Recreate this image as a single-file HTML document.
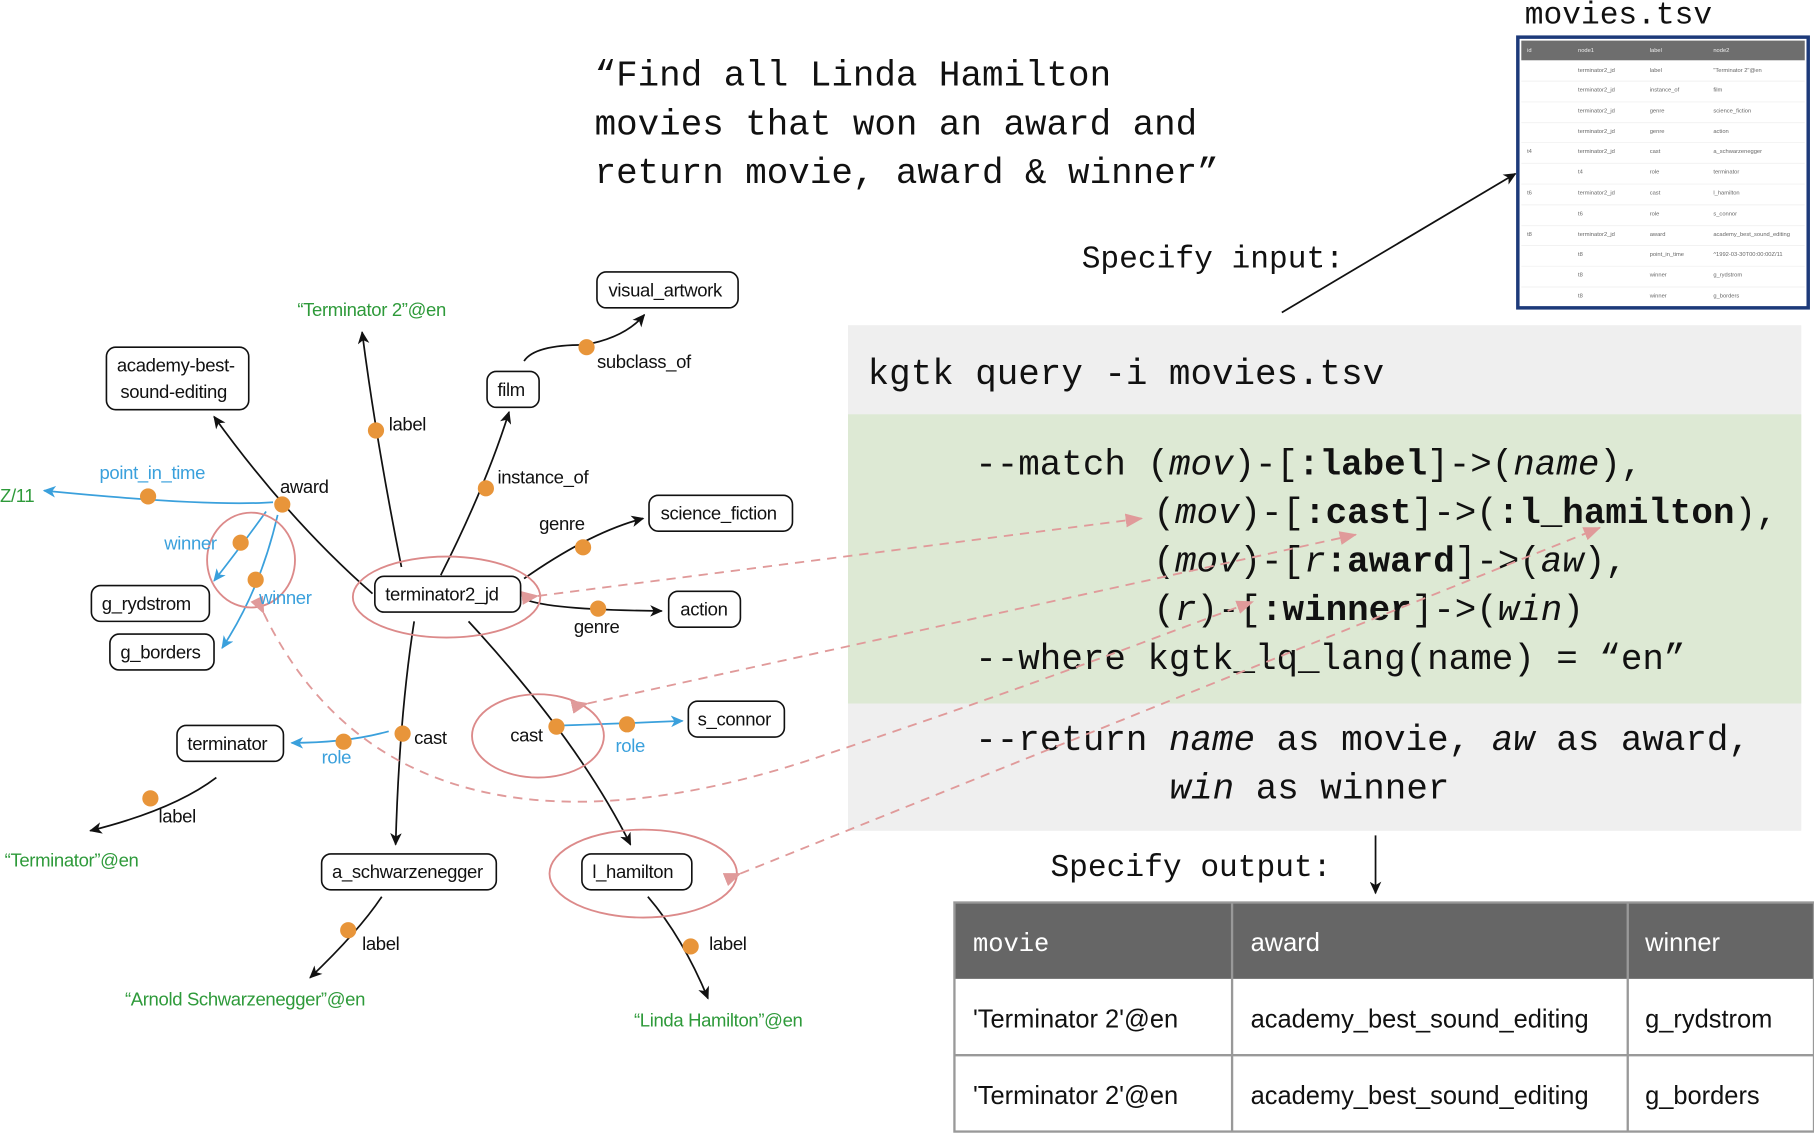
<!DOCTYPE html>
<html><head><meta charset="utf-8"><style>
html,body{margin:0;padding:0;background:#fff;}
svg{display:block;}
.n{font-family:"Liberation Sans",sans-serif;font-size:16px;fill:#111;letter-spacing:-0.3px}
.b{font-family:"Liberation Sans",sans-serif;font-size:16px;fill:#3aa0dc;letter-spacing:-0.3px}
.g{font-family:"Liberation Sans",sans-serif;font-size:16px;fill:#2e9a3a;letter-spacing:-0.3px}
.m{font-family:"Liberation Mono",monospace;font-size:31px;fill:#111}
.t{font-family:"Liberation Sans",sans-serif;font-size:5px;fill:#666}
.o{font-family:"Liberation Sans",sans-serif;font-size:22px;fill:#111}
</style></head><body>
<svg width="1814" height="1134" viewBox="0 0 1568 980" xmlns="http://www.w3.org/2000/svg">
<defs>
<marker id="ak" markerWidth="12" markerHeight="10" refX="10" refY="5" orient="auto" markerUnits="userSpaceOnUse"><path d="M0,0 L11,5 L0,10 L3,5z" fill="#111"/></marker>
<marker id="ab" markerWidth="12" markerHeight="10" refX="10" refY="5" orient="auto" markerUnits="userSpaceOnUse"><path d="M0,0 L11,5 L0,10 L3,5z" fill="#3aa0dc"/></marker>
<marker id="ap" markerWidth="16" markerHeight="12" refX="14" refY="6" orient="auto" markerUnits="userSpaceOnUse"><path d="M0,0 L15,6 L0,12z" fill="#e09a9a"/></marker>
</defs>

<!-- code block -->
<rect x="733" y="281" width="824" height="437" fill="#efefef"/>
<rect x="733" y="358" width="824" height="250" fill="#dde9d4"/>
<text class="m" x="750" y="332">kgtk query -i movies.tsv</text>
<text class="m" xml:space="preserve" x="843" y="410">--match (<tspan font-style="italic">mov</tspan>)-[<tspan font-weight="bold">:label</tspan>]-&gt;(<tspan font-style="italic">name</tspan>),</text>
<text class="m" xml:space="preserve" x="997" y="452">(<tspan font-style="italic">mov</tspan>)-[<tspan font-weight="bold">:cast</tspan>]-&gt;(<tspan font-weight="bold">:l_hamilton</tspan>),</text>
<text class="m" xml:space="preserve" x="997" y="494">(<tspan font-style="italic">mov</tspan>)-[<tspan font-style="italic">r</tspan><tspan font-weight="bold">:award</tspan>]-&gt;(<tspan font-style="italic">aw</tspan>),</text>
<text class="m" xml:space="preserve" x="997" y="536">(<tspan font-style="italic">r</tspan>)-[<tspan font-weight="bold">:winner</tspan>]-&gt;(<tspan font-style="italic">win</tspan>)</text>
<text class="m" xml:space="preserve" x="843" y="578">--where kgtk_lq_lang(name) = “en”</text>
<text class="m" xml:space="preserve" x="843" y="648">--return <tspan font-style="italic">name</tspan> as movie, <tspan font-style="italic">aw</tspan> as award,</text>
<text class="m" xml:space="preserve" x="1011" y="690"><tspan font-style="italic">win</tspan> as winner</text>

<!-- title -->
<text class="m" x="514" y="74">“Find all Linda Hamilton</text>
<text class="m" x="514" y="116">movies that won an award and</text>
<text class="m" x="514" y="158">return movie, award &amp; winner”</text>
<text class="m" x="935" y="231" style="font-size:27px">Specify input:</text>
<line x1="1108" y1="270" x2="1310" y2="150" stroke="#111" stroke-width="1.5" marker-end="url(#ak)"/>
<text class="m" x="1318" y="20" style="font-size:27px">movies.tsv</text>

<!-- movies.tsv table -->
<rect x="1312" y="32" width="251" height="234" fill="#fff" stroke="#1d3a7a" stroke-width="3"/>
<rect x="1315" y="35" width="245" height="17" fill="#6e6e6e"/>
<g class="t">
<text x="1320" y="45" style="fill:#eee">id</text><text x="1364" y="45" style="fill:#eee">node1</text><text x="1426" y="45" style="fill:#eee">label</text><text x="1481" y="45" style="fill:#eee">node2</text>
</g>
<g class="t">
<text x="1364" y="62">terminator2_jd</text><text x="1426" y="62">label</text><text x="1481" y="62">"Terminator 2"@en</text>
<text x="1364" y="79">terminator2_jd</text><text x="1426" y="79">instance_of</text><text x="1481" y="79">film</text>
<text x="1364" y="97">terminator2_jd</text><text x="1426" y="97">genre</text><text x="1481" y="97">science_fiction</text>
<text x="1364" y="115">terminator2_jd</text><text x="1426" y="115">genre</text><text x="1481" y="115">action</text>
<text x="1320" y="132">t4</text><text x="1364" y="132">terminator2_jd</text><text x="1426" y="132">cast</text><text x="1481" y="132">a_schwarzenegger</text>
<text x="1364" y="150">t4</text><text x="1426" y="150">role</text><text x="1481" y="150">terminator</text>
<text x="1320" y="168">t6</text><text x="1364" y="168">terminator2_jd</text><text x="1426" y="168">cast</text><text x="1481" y="168">l_hamilton</text>
<text x="1364" y="186">t6</text><text x="1426" y="186">role</text><text x="1481" y="186">s_connor</text>
<text x="1320" y="204">t8</text><text x="1364" y="204">terminator2_jd</text><text x="1426" y="204">award</text><text x="1481" y="204">academy_best_sound_editing</text>
<text x="1364" y="221">t8</text><text x="1426" y="221">point_in_time</text><text x="1481" y="221">^1992-03-30T00:00:00Z/11</text>
<text x="1364" y="239">t8</text><text x="1426" y="239">winner</text><text x="1481" y="239">g_rydstrom</text>
<text x="1364" y="257">t8</text><text x="1426" y="257">winner</text><text x="1481" y="257">g_borders</text>
</g>
<g stroke="#eee" stroke-width="0.6">
<line x1="1315" y1="70" x2="1560" y2="70"/><line x1="1315" y1="88" x2="1560" y2="88"/><line x1="1315" y1="106" x2="1560" y2="106"/><line x1="1315" y1="123" x2="1560" y2="123"/><line x1="1315" y1="141" x2="1560" y2="141"/><line x1="1315" y1="159" x2="1560" y2="159"/><line x1="1315" y1="177" x2="1560" y2="177"/><line x1="1315" y1="195" x2="1560" y2="195"/><line x1="1315" y1="212" x2="1560" y2="212"/><line x1="1315" y1="230" x2="1560" y2="230"/><line x1="1315" y1="248" x2="1560" y2="248"/>
</g>

<!-- output -->
<text class="m" x="908" y="757" style="font-size:27px">Specify output:</text>
<line x1="1189" y1="722" x2="1189" y2="772" stroke="#111" stroke-width="1.5" marker-end="url(#ak)"/>
<rect x="825" y="780" width="743" height="66" fill="#666"/>
<rect x="825" y="780" width="743" height="198" fill="none" stroke="#999" stroke-width="2"/>
<line x1="825" y1="912" x2="1568" y2="912" stroke="#999" stroke-width="2"/>
<line x1="1065" y1="780" x2="1065" y2="978" stroke="#999" stroke-width="2"/>
<line x1="1407" y1="780" x2="1407" y2="978" stroke="#999" stroke-width="2"/>
<text class="m" x="841" y="822" style="font-size:22px;fill:#fff">movie</text>
<text class="o" x="1081" y="822" style="fill:#fff">award</text>
<text class="o" x="1422" y="822" style="fill:#fff">winner</text>
<text class="o" x="841" y="888">'Terminator 2'@en</text>
<text class="o" x="1081" y="888">academy_best_sound_editing</text>
<text class="o" x="1422" y="888">g_rydstrom</text>
<text class="o" x="841" y="954">'Terminator 2'@en</text>
<text class="o" x="1081" y="954">academy_best_sound_editing</text>
<text class="o" x="1422" y="954">g_borders</text>

<!-- graph edges black -->
<g fill="none" stroke="#111" stroke-width="1.5">
<path d="M347,490 Q325,380 313,287" marker-end="url(#ak)"/>
<path d="M381,497 Q420,420 440,356" marker-end="url(#ak)"/>
<path d="M453,312 Q462,298 505,298 Q540,292 557,272" marker-end="url(#ak)"/>
<path d="M453,500 Q510,460 556,448" marker-end="url(#ak)"/>
<path d="M452,517 Q470,527 572,528" marker-end="url(#ak)"/>
<path d="M322,513 Q250,450 185,360" marker-end="url(#ak)"/>
<path d="M358,537 Q345,620 342,730" marker-end="url(#ak)"/>
<path d="M405,537 Q500,640 545,730" marker-end="url(#ak)"/>
<path d="M560,775 Q590,810 612,863" marker-end="url(#ak)"/>
<path d="M330,775 Q310,805 268,845" marker-end="url(#ak)"/>
<path d="M187,672 Q150,700 78,718" marker-end="url(#ak)"/>
</g>
<!-- blue edges -->
<g fill="none" stroke="#3aa0dc" stroke-width="1.5">
<path d="M236,434 Q180,438 38,424" marker-end="url(#ab)"/>
<path d="M230,442 Q210,470 185,502" marker-end="url(#ab)"/>
<path d="M240,445 Q225,510 192,560" marker-end="url(#ab)"/>
<path d="M336,632 Q300,642 252,642" marker-end="url(#ab)"/>
<path d="M485,627 Q520,626 590,623" marker-end="url(#ab)"/>
</g>

<!-- red ellipses -->
<g fill="none" stroke="#dc8a8a" stroke-width="1.6">
<ellipse cx="386" cy="516" rx="81" ry="35"/>
<ellipse cx="217" cy="484" rx="38" ry="41"/>
<ellipse cx="465" cy="636" rx="57" ry="36"/>
<ellipse cx="556" cy="755" rx="81" ry="38"/>
</g>
<!-- dashed pink -->
<g fill="none" stroke="#e09a9a" stroke-width="1.6" stroke-dasharray="8,6">
<line x1="465" y1="515" x2="987" y2="448" marker-start="url(#ap)" marker-end="url(#ap)"/>
<line x1="508" y1="608" x2="1172" y2="462" marker-start="url(#ap)" marker-end="url(#ap)"/>
<line x1="640" y1="755" x2="1383" y2="456" marker-start="url(#ap)" marker-end="url(#ap)"/>
<path d="M228,530 C320,720 520,720 720,650 C900,590 1000,550 1083,520" marker-start="url(#ap)" marker-end="url(#ap)"/>
</g>

<!-- orange dots -->
<g fill="#e8953a">
<circle cx="325" cy="372" r="7"/><circle cx="420" cy="422" r="7"/><circle cx="507" cy="300" r="7"/>
<circle cx="504" cy="473" r="7"/><circle cx="517" cy="526" r="7"/><circle cx="244" cy="436" r="7"/>
<circle cx="128" cy="429" r="7"/><circle cx="208" cy="469" r="7"/><circle cx="221" cy="501" r="7"/>
<circle cx="348" cy="634" r="7"/><circle cx="297" cy="641" r="7"/><circle cx="130" cy="690" r="7"/>
<circle cx="481" cy="628" r="7"/><circle cx="542" cy="626" r="7"/><circle cx="301" cy="804" r="7"/>
<circle cx="597" cy="818" r="7"/>
</g>

<!-- node boxes -->
<g fill="#fff" stroke="#111" stroke-width="1.4">
<rect x="516" y="235" width="122" height="31" rx="8"/>
<rect x="421" y="321" width="45" height="31" rx="8"/>
<rect x="92" y="300" width="123" height="54" rx="8"/>
<rect x="561" y="428" width="124" height="31" rx="8"/>
<rect x="324" y="498" width="126" height="31" rx="8"/>
<rect x="578" y="511" width="62" height="31" rx="8"/>
<rect x="79" y="506" width="102" height="31" rx="8"/>
<rect x="95" y="548" width="90" height="31" rx="8"/>
<rect x="153" y="627" width="92" height="31" rx="8"/>
<rect x="595" y="606" width="83" height="31" rx="8"/>
<rect x="278" y="738" width="151" height="31" rx="8"/>
<rect x="503" y="738" width="95" height="31" rx="8"/>
</g>
<g class="n">
<text x="526" y="256">visual_artwork</text>
<text x="430" y="342">film</text>
<text x="101" y="321">academy-best-</text>
<text x="104" y="344">sound-editing</text>
<text x="571" y="449">science_fiction</text>
<text x="333" y="519">terminator2_jd</text>
<text x="588" y="532">action</text>
<text x="88" y="527">g_rydstrom</text>
<text x="104" y="569">g_borders</text>
<text x="162" y="648">terminator</text>
<text x="603" y="627">s_connor</text>
<text x="287" y="759">a_schwarzenegger</text>
<text x="512" y="759">l_hamilton</text>
<text x="336" y="372">label</text>
<text x="430" y="418">instance_of</text>
<text x="516" y="318">subclass_of</text>
<text x="466" y="458">genre</text>
<text x="496" y="547">genre</text>
<text x="242" y="426">award</text>
<text x="358" y="643">cast</text>
<text x="441" y="641">cast</text>
<text x="137" y="711">label</text>
<text x="313" y="821">label</text>
<text x="613" y="821">label</text>
</g>
<g class="b">
<text x="86" y="414">point_in_time</text>
<text x="142" y="475">winner</text>
<text x="224" y="522">winner</text>
<text x="278" y="660">role</text>
<text x="532" y="650">role</text>
</g>
<g class="g">
<text x="257" y="273">“Terminator 2”@en</text>
<text x="0" y="434">Z/11</text>
<text x="4" y="749">“Terminator”@en</text>
<text x="108" y="869">“Arnold Schwarzenegger”@en</text>
<text x="548" y="887">“Linda Hamilton”@en</text>
</g>
</svg>
</body></html>
